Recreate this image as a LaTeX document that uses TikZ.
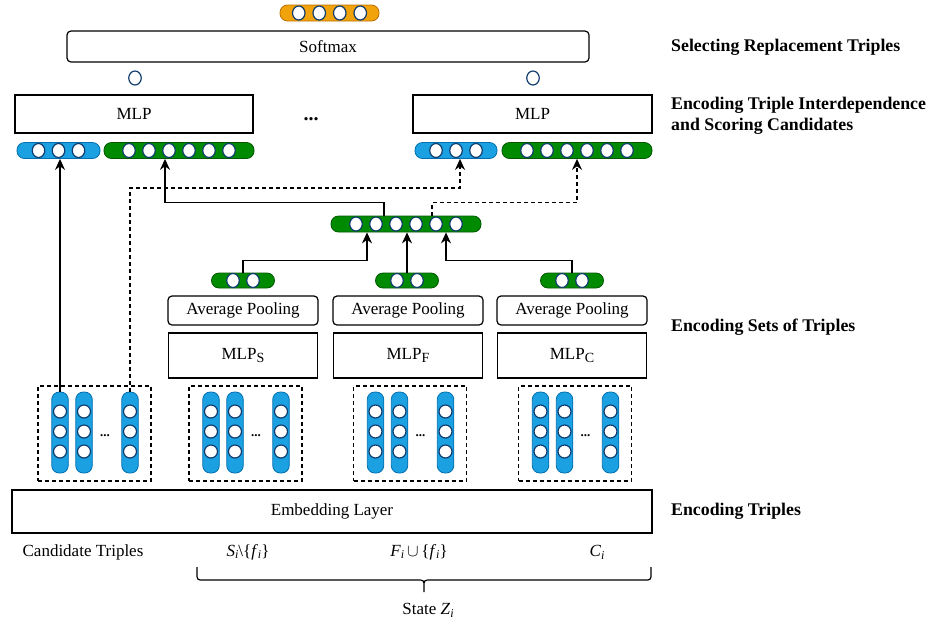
\documentclass[tikz,border=0pt]{standalone}
\usepackage{fontspec}
\setmainfont{Liberation Serif}
\usetikzlibrary{arrows.meta,shapes.geometric,calc}
\definecolor{blueF}{HTML}{1BA1E2}
\definecolor{blueD}{HTML}{006EAF}
\definecolor{greenF}{HTML}{008A00}
\definecolor{greenD}{HTML}{005700}
\definecolor{orangeF}{HTML}{F0A30A}
\definecolor{orangeD}{HTML}{BD7000}
\definecolor{cirD}{HTML}{103C6E}
\newcommand{\lowsub}[1]{\raisebox{-0.35ex}{\fontsize{12}{12}\selectfont\itshape #1}}
\newcommand{\upsub}[1]{\raisebox{-0.45ex}{\fontsize{14}{14}\selectfont #1}}
\begin{document}
\begin{tikzpicture}[x=1pt,y=-1pt,
  txt/.style={font=\fontsize{17}{20}\selectfont},
  box/.style={draw, line width=1.2pt, inner sep=0pt, txt},
  rbox/.style={box, rounded corners=4pt},
  pill/.style={draw, line width=0.8pt, inner sep=0pt, rounded corners=7.5pt, minimum height=16pt},
  bluepill/.style={pill, fill=blueF, draw=blueD},
  greenpill/.style={pill, fill=greenF, draw=greenD},
  orangepill/.style={pill, fill=orangeF, draw=orangeD},
  colpill/.style={bluepill, minimum width=16.5pt, minimum height=81pt},
  dot/.style={ellipse, draw=cirD, fill=white, line width=1.2pt, inner sep=0pt, minimum width=12.5pt, minimum height=14pt},
  cdot/.style={dot, minimum width=13pt, minimum height=13pt},
  setbox/.style={draw, line width=1.2pt, dash pattern=on 4pt off 3pt, minimum width=113pt, minimum height=95pt, inner sep=0pt},
  conn/.style={line width=1.2pt, -{Stealth[length=11pt, width=10pt]}},
  dconn/.style={conn, dash pattern=on 4pt off 3pt},
  side/.style={anchor=west, font=\bfseries\fontsize{17.8}{21}\selectfont, align=left, inner sep=0pt},
  lbl/.style={txt, inner sep=0pt}
]
\useasboundingbox (0,0) rectangle (931,625);

% output
\node[orangepill, minimum width=99pt] (out) at (329.5,13) {};
\foreach \k [count=\j] in {-30.75,-10.25,10.25,30.75}
  \node[dot] (out-\j) at ($(out)+(\k,0)$) {};

\node[rbox, minimum width=522pt, minimum height=31pt] (soft) at (328,46.5) {Softmax};

\node[dot] (s1) at (135,78) {};
\node[dot] (s2) at (533,78) {};

\node[box, minimum width=238pt, minimum height=38pt] (mlpL) at (134,114) {MLP};
\node[box, minimum width=239pt, minimum height=38pt] (mlpR) at (532.5,114) {MLP};
\node[font=\bfseries\fontsize{20}{20}\selectfont, inner sep=0pt] (dtop) at (311,119) {...};

% candidate pills
\node[bluepill, minimum width=83pt] (bL) at (58.5,150.5) {};
\node[bluepill, minimum width=82pt] (bR) at (456,150.5) {};
\node[greenpill, minimum width=150pt] (gL) at (179,150.5) {};
\node[greenpill, minimum width=150pt] (gR) at (577,150.5) {};
\foreach \k [count=\j] in {-20,0,20}{
  \node[dot] (bL-\j) at ($(bL)+(\k,0)$) {};
  \node[dot] (bR-\j) at ($(bR)+(\k,0)$) {};
}
\foreach \k [count=\j] in {-50,-30,-10,10,30,50}{
  \node[dot] (gL-\j) at ($(gL)+(\k,0)$) {};
  \node[dot] (gR-\j) at ($(gR)+(\k,0)$) {};
}

% state pill
\node[greenpill, minimum width=150pt] (gM) at (406,224) {};
\foreach \k [count=\j] in {-50,-30,-10,10,30,50}
  \node[dot] (gM-\j) at ($(gM)+(\k,0)$) {};

% set encoders
\foreach \n/\x in {1/243,2/407,3/572}{
  \node[greenpill, minimum width=63pt, minimum height=15pt] (sp\n) at (\x,280.5) {};
  \node[dot] (sp\n-1) at ($(sp\n)+(-10,0)$) {};
  \node[dot] (sp\n-2) at ($(sp\n)+(10,0)$) {};
}
\node[rbox, minimum width=150pt, minimum height=29pt] (ap1) at (243,310.5) {Average Pooling};
\node[rbox, minimum width=150pt, minimum height=29pt] (ap2) at (408,310.5) {Average Pooling};
\node[rbox, minimum width=150pt, minimum height=29pt] (ap3) at (572,310.5) {Average Pooling};
\node[box, minimum width=149pt, minimum height=45pt] (m1) at (243,355.5) {MLP\upsub{S}};
\node[box, minimum width=149pt, minimum height=45pt] (m2) at (408,355.5) {MLP\upsub{F}};
\node[box, minimum width=149pt, minimum height=45pt] (m3) at (572,355.5) {MLP\upsub{C}};

% triple sets
\foreach \n/\x in {1/94.5,2/245.5,3/410,4/575}{
  \node[setbox] (db\n) at (\x,433.5) {};
  \foreach \k [count=\j] in {-34.5,-10.5,35.5}{
    \node[colpill] (c\n-\j) at ($(db\n)+(\k,-1)$) {};
    \foreach \yy [count=\m] in {-21,-1,19}
      \node[cdot] (c\n-\j-\m) at ($(c\n-\j)+(0,\yy)$) {};
  }
  \node[font=\bfseries\fontsize{13}{13}\selectfont, inner sep=0pt] (dd\n) at ($(db\n)+(10.5,2)$) {...};
}

\node[box, minimum width=640pt, minimum height=43pt] (emb) at (332,511.5) {Embedding Layer};

% connectors
\draw[conn] (c1-1.north) -- (c1-1.north |- bL.south);
\draw[dconn] (c1-3.north) -- (c1-3.north |- 0,188) -| ([xshift=4pt]bR.south);
\draw[conn] ([xshift=-22pt]gM.north) -- ++(0,-13) -| ([xshift=-14pt]gL.south);
\draw[dconn] ([xshift=26pt]gM.north) -- ++(0,-13) -| (gR.south);
\draw[conn] (sp1.north) -- ++(0,-12) -| ([xshift=-39pt]gM.south);
\draw[conn] (sp2.north) -- (sp2.north |- gM.south);
\draw[conn] (sp3.north) -- ++(0,-12) -| ([xshift=40pt]gM.south);

% bottom labels
\node[lbl] (cand) at (83,552) {Candidate Triples};
\node[lbl] (setS) at (248,552) {\textit{S}\lowsub{i}\textbackslash\{\textit{f}\lowsub{i}\}};
\node[lbl] (setF) at (419,552) {\textit{F}\lowsub{i}\,$\cup$\,\{\textit{f}\lowsub{i}\}};
\node[lbl] (setC) at (597,552) {\textit{C}\lowsub{i}};
\draw[line width=1.2pt] (197,567) -- (197,573) .. controls (197,580) .. (204,580) -- (417,580)
  .. controls (424,580) .. (424,587) -- (424,592) -- (424,587)
  .. controls (424,580) .. (431,580) -- (644,580) .. controls (651,580) .. (651,573) -- (651,567);
\node[lbl] (state) at (428,610) {State \textit{Z}\lowsub{i}};

% side labels
\node[side] (l1) at (671,47) {Selecting Replacement Triples};
\node[side] (l2) at (671,116) {Encoding Triple Interdependence\\and Scoring Candidates};
\node[side] (l3) at (671,327) {Encoding Sets of Triples};
\node[side] (l4) at (671,511) {Encoding Triples};
\end{tikzpicture}
\end{document}
